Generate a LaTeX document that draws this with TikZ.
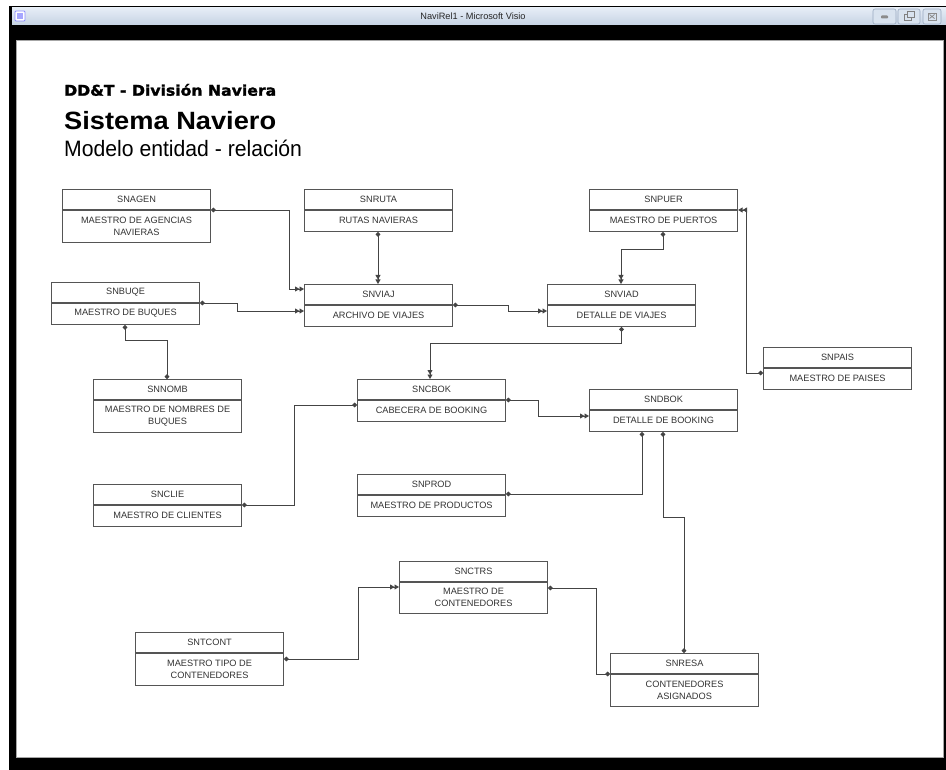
\documentclass[tikz,border=0pt]{standalone}
\usepackage{fontspec}
\setmainfont{Liberation Sans}
\newfontfamily\djheavy[FakeBold=1.6]{DejaVu Sans Bold}
\usetikzlibrary{arrows.meta}
\definecolor{boxline}{HTML}{555555}
\definecolor{txt}{HTML}{333333}
\definecolor{conn}{HTML}{444444}
\definecolor{tbtop}{HTML}{E6EDF6}
\definecolor{tbbot}{HTML}{C6D3E4}
\definecolor{btnfill}{HTML}{D9E3EF}
\definecolor{btnline}{HTML}{98A9C0}
\tikzset{
  ebox/.style={draw=boxline, line width=1.1pt, fill=white, minimum width=148pt, inner sep=0pt, anchor=north west},
  divline/.style={draw=boxline, line width=1.1pt},
  etext/.style={text=txt, font=\fontsize{9.2}{11.7}\selectfont, align=center, inner sep=0pt},
  rel/.style={draw=conn, line width=0.9pt},
  rda/.style={rel, {Circle[length=4.6pt]}-{Triangle[length=4.5pt,width=5pt]Triangle[length=4.5pt,width=5pt]}},
  rdd/.style={rel, {Circle[length=4.6pt]}-{Circle[length=4.6pt]}},
  winbtn/.style={draw=btnline, fill=btnfill, rounded corners=2pt, line width=0.6pt},
  titletext/.style={inner sep=0pt, anchor=base west, text=black}
}
\newcommand\entity[6]{%
  \node[ebox, minimum height=#3] (#1) at (#2) {};
  \draw[divline] ([yshift=-21pt]#1.north west) -- ([yshift=-21pt]#1.north east);
  \node[etext] (#1-h) at ([yshift=-10.5pt]#1.north) {#4};
  \node[etext] (#1-b) at ([yshift=-#6]#1.north) {#5};
}
\begin{document}
\begin{tikzpicture}[x=1pt,y=-1pt]
\useasboundingbox (0,0) rectangle (946,770);
\fill[white] (0,0) rectangle (946,770);
% window frame
\fill[black] (9,6) rectangle (946,770);
\fill[top color=tbtop, bottom color=tbbot] (12,8) rectangle (946,25);
\fill[white] (16,40) rectangle (943,757);
\draw[gray!70, line width=0.6pt] (16,40) rectangle (943,757);
% icon
\draw[fill=white, draw=blue!45, line width=0.8pt, rounded corners=1pt] (15,11) rectangle (25,21);
\fill[blue!35] (17,13) rectangle (23,19);
\node[inner sep=0pt, font=\fontsize{9.2}{11}\selectfont, text=black!85] (wtitle) at (473,16.5) {NaviRel1 - Microsoft Visio};
% window buttons
\draw[winbtn] (873,9) rectangle (896,24);
\draw[winbtn] (898,9) rectangle (920,24);
\draw[winbtn] (923,9) rectangle (941,24);
\fill[black!45, rounded corners=0.8pt] (881,15.5) rectangle (888,18.5);
\draw[black!50, line width=0.9pt] (904,14) rectangle (911,20);
\draw[black!50, fill=btnfill, line width=0.9pt] (907,11.5) rectangle (914,17.5);
\draw[black!45, line width=0.9pt] (928,13) rectangle (936,20);
\draw[black!45, line width=0.8pt] (929.5,14.5) -- (934.5,18.5) (929.5,18.5) -- (934.5,14.5);
% titles
\node[titletext] (t1) at (64,95.7) {\scalebox{1.066}[1]{\djheavy\fontsize{14.7}{16}\selectfont DD\&T - División Naviera}};
\node[titletext] (t2) at (64,130) {\scalebox{1.09}[1]{\bfseries\fontsize{25}{28}\selectfont Sistema Naviero}};
\node[titletext] (t3) at (64,156.7) {\scalebox{0.95}[1]{\fontsize{22.3}{26}\selectfont Modelo entidad - relación}};
% entities
\entity{agen}{62,189}{53pt}{SNAGEN}{MAESTRO DE AGENCIAS\\NAVIERAS}{37pt}
\entity{ruta}{304,189}{42pt}{SNRUTA}{RUTAS NAVIERAS}{31.5pt}
\entity{puer}{589,189}{42pt}{SNPUER}{MAESTRO DE PUERTOS}{31.5pt}
\entity{buqe}{51,282}{42pt}{SNBUQE}{MAESTRO DE BUQUES}{31.5pt}
\entity{viaj}{304,284}{42pt}{SNVIAJ}{ARCHIVO DE VIAJES}{31.5pt}
\entity{viad}{547,284}{42pt}{SNVIAD}{DETALLE DE VIAJES}{31.5pt}
\entity{nomb}{93,379}{53pt}{SNNOMB}{MAESTRO DE NOMBRES DE\\BUQUES}{37pt}
\entity{pais}{763,347}{42pt}{SNPAIS}{MAESTRO DE PAISES}{31.5pt}
\entity{cbok}{357,379}{42pt}{SNCBOK}{CABECERA DE BOOKING}{31.5pt}
\entity{dbok}{589,389}{42pt}{SNDBOK}{DETALLE DE BOOKING}{31.5pt}
\entity{clie}{93,484}{42pt}{SNCLIE}{MAESTRO DE CLIENTES}{31.5pt}
\entity{prod}{357,474}{42pt}{SNPROD}{MAESTRO DE PRODUCTOS}{31.5pt}
\entity{ctrs}{399,561}{52pt}{SNCTRS}{MAESTRO DE\\CONTENEDORES}{36.5pt}
\entity{tcont}{135,632}{53pt}{SNTCONT}{MAESTRO TIPO DE\\CONTENEDORES}{37pt}
\entity{resa}{610,653}{53pt}{SNRESA}{CONTENEDORES\\ASIGNADOS}{37pt}
% relations
\draw[rda] ([yshift=-21pt]agen.north east) -- ++(78,0) |- ([yshift=-5pt]viaj.north west);
\draw[rda] ([yshift=-21pt]buqe.north east) -- ++(37,0) |- ([yshift=-27pt]viaj.north west);
\draw[rdd] ([xshift=74pt]buqe.south west) -- ++(0,15) -| ([xshift=74pt]nomb.north west);
\draw[rda] ([xshift=74pt]ruta.south west) -- ([xshift=74pt]viaj.north west);
\draw[rda] ([yshift=-21pt]viaj.north east) -- ++(55,0) |- ([yshift=-27pt]viad.north west);
\draw[rda] ([xshift=74pt]puer.south west) -- ++(0,17) -| ([xshift=74pt]viad.north west);
\draw[rda] ([yshift=-26pt]pais.north west) -- ++(-17,0) |- ([yshift=-21pt]puer.north east);
\draw[rda] (viad.south) -- ++(0,16) -| ([xshift=73pt]cbok.north west);
\draw[rda] ([yshift=-21pt]cbok.north east) -- ++(32,0) |- ([yshift=-27pt]dbok.north west);
\draw[rdd] ([yshift=-21pt]clie.north east) -- ++(52,0) |- ([yshift=-26pt]cbok.north west);
\draw[rdd] ([yshift=-20pt]prod.north east) -| ([xshift=53pt]dbok.south west);
\draw[rdd] ([xshift=74pt]dbok.south west) -- ++(0,85) -| ([xshift=74pt]resa.north west);
\draw[rdd] ([yshift=-27pt]ctrs.north east) -- ++(48,0) |- ([yshift=-21pt]resa.north west);
\draw[rda] ([yshift=-27pt]tcont.north east) -- ++(74,0) |- ([yshift=-26pt]ctrs.north west);
\end{tikzpicture}
\end{document}
